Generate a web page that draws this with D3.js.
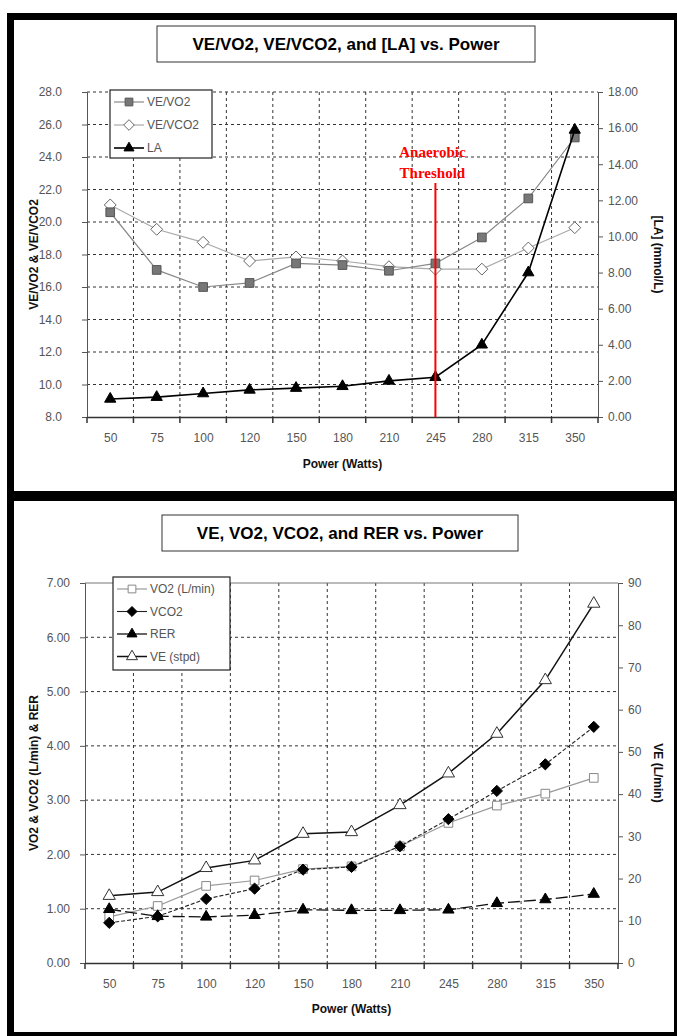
<!DOCTYPE html>
<html>
<head>
<meta charset="utf-8">
<script src="https://cdnjs.cloudflare.com/ajax/libs/d3/7.8.5/d3.min.js"></script>
<style>
body { margin: 0; background: #fff; }
text { font-family: "Liberation Sans", Arial, sans-serif; }
.tick text { fill: #555; font-size: 12px; }
.lbl { font-weight: bold; font-size: 12px; fill: #111; }
.leg { font-size: 12px; fill: #555; }
</style>
</head>
<body>
<script>
//categories (power steps, watts)
const powers = ['50', '75', '100', '120', '150', '180', '210', '245', '280', '315', '350'];

//top chart series
const ve_vo2 = [20.6, 17.05, 16.0, 16.25, 17.45, 17.35, 17.0, 17.45, 19.05, 21.45, 25.2];
const ve_vco2 = [21.05, 19.55, 18.75, 17.6, 17.85, 17.6, 17.25, 17.1, 17.1, 18.4, 19.65];
const la = [1.0, 1.1, 1.3, 1.5, 1.6, 1.7, 2.0, 2.2, 4.0, 8.0, 15.9];

//bottom chart series
const vo2 = [0.85, 1.05, 1.42, 1.52, 1.73, 1.78, 2.15, 2.58, 2.90, 3.12, 3.41];
const vco2 = [0.74, 0.86, 1.18, 1.37, 1.72, 1.77, 2.15, 2.65, 3.17, 3.66, 4.35];
const rer = [0.99, 0.86, 0.85, 0.88, 0.98, 0.97, 0.97, 0.98, 1.10, 1.17, 1.27];
const ve = [15.9, 16.8, 22.5, 24.3, 30.6, 31.0, 37.4, 44.9, 54.3, 67.0, 85.1];

//tick values
const top_left_ticks = [8, 10, 12, 14, 16, 18, 20, 22, 24, 26, 28];
const top_right_ticks = [0, 2, 4, 6, 8, 10, 12, 14, 16, 18];
const bot_left_ticks = [0, 1, 2, 3, 4, 5, 6, 7];
const bot_right_ticks = [0, 10, 20, 30, 40, 50, 60, 70, 80, 90];

const threshold_power = '245';

//svg container width and height
const c_width = 677;
const c_height = 1036;

const svg = d3.select('body')
			.append('svg')
			.attr('width', c_width)
			.attr('height', c_height);

//black frame round both panels
const frame = svg.append('g').attr('fill', '#000');
frame.append('rect').attr('x', 7).attr('y', 13).attr('width', 670).attr('height', 7);
frame.append('rect').attr('x', 7).attr('y', 13).attr('width', 7).attr('height', 1023);
frame.append('rect').attr('x', 7).attr('y', 491).attr('width', 670).attr('height', 10);
frame.append('rect').attr('x', 7).attr('y', 1032).attr('width', 670).attr('height', 4);
frame.append('rect').attr('x', 674).attr('y', 13).attr('width', 3).attr('height', 1023);

//draws the shared parts of one panel: title, grid, axes, labels
function drawPanel(p) {
	const g = svg.append('g');

	const xBand = d3.scaleBand().domain(powers).range([p.x0, p.x1]);
	const xPoint = d3.scalePoint().domain(powers).range([p.x0, p.x1]).padding(0.5);
	const yL = d3.scaleLinear().domain(p.leftDomain).range([p.y1, p.y0]);
	const yR = d3.scaleLinear().domain(p.rightDomain).range([p.y1, p.y0]);

	//title box
	const title = g.append('g');
	title.append('rect')
		.attr('x', p.titleBox[0]).attr('y', p.titleBox[1])
		.attr('width', p.titleBox[2]).attr('height', p.titleBox[3])
		.attr('fill', '#fff').attr('stroke', '#333').attr('stroke-width', 1);
	title.append('text')
		.attr('x', p.titleBox[0] + p.titleBox[2] / 2)
		.attr('y', p.titleBox[1] + p.titleBox[3] / 2 + 6)
		.attr('text-anchor', 'middle')
		.style('font-weight', 'bold')
		.style('font-size', '17px')
		.style('fill', '#000')
		.text(p.title);

	//grid lines
	const boundaries = powers.slice(1).map(d => xBand(d));
	g.append('g').selectAll('line')
		.data(boundaries)
		.enter()
		.append('line')
		.attr('x1', d => d).attr('x2', d => d)
		.attr('y1', p.y0).attr('y2', p.y1)
		.attr('stroke', '#333').attr('stroke-width', 1)
		.attr('stroke-dasharray', '3,3');

	g.append('g').selectAll('line')
		.data(p.leftTicks.slice(1).filter(d => !(p.solidTop && d === p.leftDomain[1])))
		.enter()
		.append('line')
		.attr('x1', p.x0).attr('x2', p.x1)
		.attr('y1', d => yL(d)).attr('y2', d => yL(d))
		.attr('stroke', '#333').attr('stroke-width', 1)
		.attr('stroke-dasharray', '3,3');

	if (p.solidTop) {
		g.append('line')
			.attr('x1', p.x0).attr('x2', p.x1)
			.attr('y1', p.y0).attr('y2', p.y0)
			.attr('stroke', '#777');
	}

	//axes
	const leftAxis = d3.axisLeft(yL)
					.tickValues(p.leftTicks)
					.tickFormat(d3.format(p.leftFormat))
					.tickSize(5)
					.tickPadding(p.leftPad);
	g.append('g')
		.attr('transform', 'translate(' + p.x0 + ',0)')
		.call(leftAxis)
		.call(a => a.select('.domain').attr('stroke', '#555'))
		.call(a => a.selectAll('.tick line').attr('stroke', '#555'));

	const rightAxis = d3.axisRight(yR)
					.tickValues(p.rightTicks)
					.tickFormat(d3.format(p.rightFormat))
					.tickSize(5)
					.tickPadding(5);
	g.append('g')
		.attr('transform', 'translate(' + p.x1 + ',0)')
		.call(rightAxis)
		.call(a => a.select('.domain').attr('stroke', '#555'))
		.call(a => a.selectAll('.tick line').attr('stroke', '#555'));

	const bottomAxis = d3.axisBottom(xPoint)
						.tickSize(0)
						.tickPadding(16);
	g.append('g')
		.attr('transform', 'translate(0,' + p.y1 + ')')
		.call(bottomAxis)
		.call(a => a.select('.domain').attr('stroke', '#333').attr('stroke-width', 1.5));

	//category tick marks sit between the labels
	g.append('g').selectAll('line')
		.data(boundaries.concat([p.x0, p.x1]))
		.enter()
		.append('line')
		.attr('x1', d => d).attr('x2', d => d)
		.attr('y1', p.y1).attr('y2', p.y1 + 6)
		.attr('stroke', '#333').attr('stroke-width', 1.5);

	//axis titles
	g.append('text')
		.attr('class', 'lbl')
		.attr('x', (p.x0 + p.x1) / 2)
		.attr('y', p.xTitleY)
		.attr('text-anchor', 'middle')
		.text('Power (Watts)');

	g.append('text')
		.attr('class', 'lbl')
		.attr('transform', 'translate(38,' + (p.y0 + p.y1) / 2 + ') rotate(-90)')
		.attr('text-anchor', 'middle')
		.text(p.leftTitle);

	g.append('text')
		.attr('class', 'lbl')
		.attr('transform', 'translate(654,' + (p.y0 + p.y1) / 2 + ') rotate(90)')
		.attr('text-anchor', 'middle')
		.text(p.rightTitle);

	return { g: g, x: xPoint, yL: yL, yR: yR };
}

//draws one line series with its markers
function drawSeries(panel, values, y, st) {
	const pts = values.map((v, i) => [panel.x(powers[i]), y(v)]);
	panel.g.append('path')
		.datum(pts)
		.attr('d', d3.line())
		.attr('fill', 'none')
		.attr('stroke', st.line)
		.attr('stroke-width', st.width)
		.attr('stroke-dasharray', st.dash || null);
	panel.g.append('g').selectAll('path')
		.data(pts)
		.enter()
		.append('path')
		.attr('transform', d => 'translate(' + d[0] + ',' + d[1] + ')')
		.attr('d', d3.symbol().type(st.symbol).size(st.size))
		.attr('fill', st.fill)
		.attr('stroke', st.stroke)
		.attr('stroke-width', 1);
}

//legend box with a short line, marker and name per entry
function drawLegend(panel, box, entries) {
	const leg = panel.g.append('g');
	leg.append('rect')
		.attr('x', box[0]).attr('y', box[1])
		.attr('width', box[2]).attr('height', box[3])
		.attr('fill', '#fff').attr('stroke', '#222').attr('stroke-width', 1.2);
	const row = leg.selectAll('g.row')
		.data(entries)
		.enter()
		.append('g')
		.attr('transform', (d, i) => 'translate(' + (box[0] + 4) + ',' + (box[1] + 12 + i * box[4]) + ')');
	row.append('line')
		.attr('x1', 0).attr('x2', 30)
		.attr('stroke', d => d.st.line).attr('stroke-width', d => d.st.width);
	row.append('path')
		.attr('transform', 'translate(15,0)')
		.attr('d', d => d3.symbol().type(d.st.symbol).size(d.st.size * 0.8)())
		.attr('fill', d => d.st.fill)
		.attr('stroke', d => d.st.stroke);
	row.append('text')
		.attr('class', 'leg')
		.attr('x', 33)
		.attr('y', 4)
		.text(d => d.name);
}

// ---------- top panel ----------
const topPanel = drawPanel({
	x0: 87, x1: 598, y0: 92, y1: 417,
	leftDomain: [8, 28], rightDomain: [0, 18],
	leftTicks: top_left_ticks, rightTicks: top_right_ticks,
	leftFormat: '.1f', rightFormat: '.2f', leftPad: 20,
	titleBox: [157, 26, 378, 36],
	title: 'VE/VO2, VE/VCO2, and [LA] vs. Power',
	xTitleY: 468,
	leftTitle: 'VE/VO2 & VE/VCO2',
	rightTitle: '[LA] (mmol/L)',
	solidTop: false
});

const st_vevo2 = { line: '#888', width: 1.2, symbol: d3.symbolSquare, size: 75, fill: '#777', stroke: '#555' };
const st_vevco2 = { line: '#aaa', width: 1.2, symbol: d3.symbolDiamond2, size: 90, fill: '#fff', stroke: '#666' };
const st_la = { line: '#000', width: 1.6, symbol: d3.symbolTriangle, size: 55, fill: '#000', stroke: '#000' };

drawSeries(topPanel, ve_vco2, topPanel.yL, st_vevco2);
drawSeries(topPanel, ve_vo2, topPanel.yL, st_vevo2);
drawSeries(topPanel, la, topPanel.yR, st_la);

//anaerobic threshold marker
const atX = topPanel.x(threshold_power);
topPanel.g.append('line')
	.attr('x1', atX).attr('x2', atX)
	.attr('y1', 183).attr('y2', 417)
	.attr('stroke', '#ff0000').attr('stroke-width', 2);
topPanel.g.append('text')
	.attr('x', atX - 3).attr('y', 157)
	.attr('text-anchor', 'middle')
	.style('font-family', '"Liberation Serif", "Times New Roman", serif')
	.style('font-weight', 'bold').style('font-size', '15px')
	.style('fill', '#ff0000')
	.text('Anaerobic');
topPanel.g.append('text')
	.attr('x', atX - 3).attr('y', 178)
	.attr('text-anchor', 'middle')
	.style('font-family', '"Liberation Serif", "Times New Roman", serif')
	.style('font-weight', 'bold').style('font-size', '15px')
	.style('fill', '#ff0000')
	.text('Threshold');

drawLegend(topPanel, [110, 90, 102, 68, 23], [
	{ name: 'VE/VO2', st: st_vevo2 },
	{ name: 'VE/VCO2', st: st_vevco2 },
	{ name: 'LA', st: st_la }
]);

// ---------- bottom panel ----------
const botPanel = drawPanel({
	x0: 85, x1: 618, y0: 583, y1: 963,
	leftDomain: [0, 7], rightDomain: [0, 90],
	leftTicks: bot_left_ticks, rightTicks: bot_right_ticks,
	leftFormat: '.2f', rightFormat: 'd', leftPad: 10,
	titleBox: [162, 515, 356, 36],
	title: 'VE, VO2, VCO2, and RER vs. Power',
	xTitleY: 1013,
	leftTitle: 'VO2 & VCO2 (L/min) & RER',
	rightTitle: 'VE (L/min)',
	solidTop: true
});

const st_vo2 = { line: '#999', width: 1.2, symbol: d3.symbolSquare, size: 75, fill: '#fff', stroke: '#888' };
const st_vco2 = { line: '#222', width: 1.1, dash: '4,2', symbol: d3.symbolDiamond2, size: 80, fill: '#000', stroke: '#000' };
const st_rer = { line: '#111', width: 1.3, dash: '12,4', symbol: d3.symbolTriangle, size: 55, fill: '#000', stroke: '#000' };
const st_ve = { line: '#111', width: 1.5, symbol: d3.symbolTriangle, size: 65, fill: '#fff', stroke: '#333' };

drawSeries(botPanel, vo2, botPanel.yL, st_vo2);
drawSeries(botPanel, vco2, botPanel.yL, st_vco2);
drawSeries(botPanel, rer, botPanel.yL, st_rer);
drawSeries(botPanel, ve, botPanel.yR, st_ve);

drawLegend(botPanel, [113, 577, 117, 93, 22.5], [
	{ name: 'VO2 (L/min)', st: st_vo2 },
	{ name: 'VCO2', st: st_vco2 },
	{ name: 'RER', st: st_rer },
	{ name: 'VE (stpd)', st: st_ve }
]);
</script>
</body>
</html>
